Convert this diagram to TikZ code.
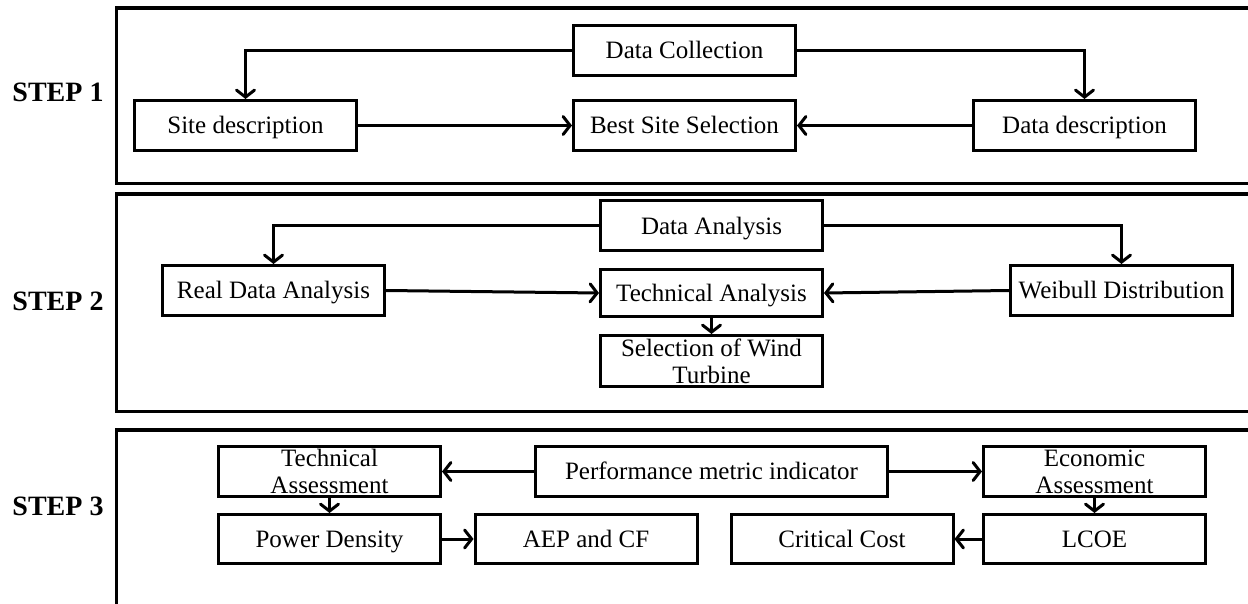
\documentclass[tikz,border=0pt]{standalone}
\usepackage{fontspec}
\setmainfont{Liberation Serif}
\usetikzlibrary{arrows.meta}
\begin{document}
\begin{tikzpicture}[x=1pt,y=-1pt,
 box/.style={draw, line width=3pt, minimum width=222pt, minimum height=50pt, inner sep=0pt, align=center, font=\fontsize{25}{27}\selectfont},
 one/.style={text height=20pt, text depth=3.5pt},
 arr/.style={line width=3pt, -{Straight Barb[length=7pt,width=18pt,line cap=round]}},
 panel/.style={line width=3.5pt},
 steplbl/.style={font=\fontsize{28}{30}\selectfont\bfseries, inner sep=0pt}]
\useasboundingbox (0,0) rectangle (1248,604);
\fill[white] (0,0) rectangle (1248,604);
\clip (0,0) rectangle (1248,604);
% panels
\draw[panel] (1260,8) -- (116.5,8) -- (116.5,183.5) -- (1260,183.5);
\draw[panel] (1260,194) -- (116.5,194) -- (116.5,411.5) -- (1260,411.5);
\draw[panel] (1260,430) -- (116.5,430) -- (116.5,620);
% step labels
\node[steplbl] (s1) at (58,92) {STEP 1};
\node[steplbl] (s2) at (58,301) {STEP 2};
\node[steplbl] (s3) at (58,506) {STEP 3};
% step 1
\node[box, one] (DC) at (684.5,50.5) {Data Collection};
\node[box, one] (SD) at (245.5,125.5) {Site description};
\node[box, one] (BSS) at (684.5,125.5) {Best Site Selection};
\node[box, one] (DD) at (1084.5,125.5) {Data description};
\draw[arr] (DC.west) -| (SD.north);
\draw[arr] (DC.east) -| (DD.north);
\draw[arr] (SD.east) -- (BSS.west);
\draw[arr] (DD.west) -- (BSS.east);
% step 2
\node[box, one] (DA) at (711.5,226) {Data Analysis};
\node[box, one] (RDA) at (273.5,290.5) {Real Data Analysis};
\node[box, one, minimum height=47pt] (TA) at (711.5,293) {Technical Analysis};
\node[box, minimum height=51pt] (SWT) at (711.5,361) {Selection of Wind\\Turbine};
\node[box, one] (WD) at (1121.5,290.5) {Weibull Distribution};
\draw[arr] (DA.west) -| (RDA.north);
\draw[arr] (DA.east) -| (WD.north);
\draw[arr] (RDA.east) -- (TA.west);
\draw[arr] (WD.west) -- (TA.east);
\draw[arr] (TA.south) -- (SWT.north);
% step 3
\node[box] (TechA) at (329.5,471.5) {Technical\\Assessment};
\node[box, one, minimum height=49pt] (PD) at (329.5,539) {Power Density};
\node[box, one, minimum width=352pt] (PMI) at (711.5,471.5) {Performance metric indicator};
\node[box, one, minimum height=49pt] (AEP) at (586,539) {AEP and CF};
\node[box, one, minimum height=49pt] (CC) at (842,539) {Critical Cost};
\node[box] (EA) at (1094.5,471.5) {Economic\\Assessment};
\node[box, one, minimum height=49pt] (LCOE) at (1094.5,539) {LCOE};
\draw[arr] (PMI.west) -- (TechA.east);
\draw[arr] (PMI.east) -- (EA.west);
\draw[arr] (TechA.south) -- (PD.north);
\draw[arr] (PD.east) -- (AEP.west);
\draw[arr] (EA.south) -- (LCOE.north);
\draw[arr] (LCOE.west) -- (CC.east);
\end{tikzpicture}
\end{document}
